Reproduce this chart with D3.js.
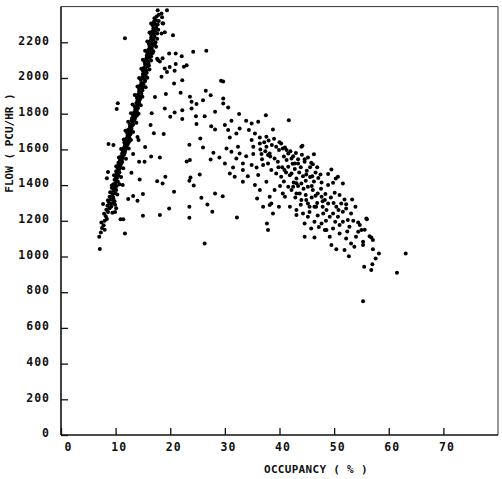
<!DOCTYPE html>
<html lang="en">
<head>
<meta charset="UTF-8">
<title>flow vs occupancy</title>
<script src="https://cdn.jsdelivr.net/npm/d3@7"></script>
<style>
	body { margin: 0; background: #fff; }
	svg text { font-family: "DejaVu Sans Mono", monospace; font-weight: bold; fill: #111; }
</style>
</head>
<body>
<svg id="chart" width="502" height="479"></svg>
<script>
// [occupancy %, flow pcu/hr]
var freeFlow = [
	[7.1,1042],[7.0,1110],[7.3,1135],[7.5,1160],[7.8,1175],[7.4,1190],
	[8.0,1200],[8.4,1210],[8.2,1225],[7.9,1240],[8.6,1250],[8.3,1262],[8.9,1270],[8.5,1285],
	[9.0,1295],[8.7,1305],[9.5,1300],[9.8,1310],[9.2,1320],[8.9,1335],[9.5,1335],
	[9.4,1350],[9.9,1355],[9.6,1370],[10.1,1372],[9.3,1385],
	[9.8,1390],[10.2,1395],[9.6,1405],[10.0,1412],[10.4,1420],[9.8,1430],[10.2,1438],
	[10.0,1448],[10.5,1452],[10.3,1465],[10.7,1470],[10.1,1478],[10.5,1485],
	[10.4,1495],[10.9,1500],[10.6,1512],[11.0,1518],[10.5,1525],[11.2,1530],[10.8,1538],
	[10.9,1548],[11.3,1552],[11.0,1562],[11.5,1568],[11.2,1578],[11.7,1585],
	[11.3,1592],[11.8,1598],[11.5,1608],[12.0,1612],[11.7,1622],[12.2,1628],[11.6,1638],
	[11.9,1645],[12.3,1650],[12.0,1662],[12.5,1668],[12.2,1678],[12.7,1685],
	[12.1,1692],[12.6,1700],[12.3,1710],[12.9,1715],[12.6,1725],[13.0,1732],
	[12.6,1740],[13.1,1748],[12.9,1760],[13.4,1765],[13.0,1775],[13.6,1782],
	[13.2,1790],[13.7,1798],[13.4,1808],[13.9,1815],[13.6,1825],[14.1,1832],
	[13.5,1840],[14.0,1848],[13.8,1860],[14.3,1866],[14.0,1875],[14.5,1882],
	[13.9,1890],[14.4,1897],[14.1,1908],[14.7,1915],[14.3,1925],[14.9,1932],
	[14.3,1940],[14.8,1948],[14.5,1958],[15.1,1962],[14.7,1972],[15.3,1980],
	[14.6,1990],[15.2,1995],[14.9,2005],[15.5,2012],[15.0,2022],[15.7,2030],
	[15.0,2040],[15.5,2046],[15.2,2058],[15.8,2064],[15.4,2075],[16.0,2082],
	[15.3,2090],[15.9,2095],[15.6,2108],[16.2,2115],[15.7,2125],[16.4,2130],
	[15.8,2140],[16.3,2147],[16.0,2158],[16.6,2165],[16.2,2175],[16.8,2180],
	[16.1,2190],[16.7,2196],[16.4,2208],[16.9,2215],[16.5,2225],[17.1,2232],
	[16.5,2242],[17.0,2250],[16.7,2260],[17.3,2266],[16.9,2278],[17.4,2285],
	[16.8,2295],[17.2,2302],[17.0,2315],[17.4,2322],[17.1,2335],[17.5,2345],
	[17.9,2355],[18.4,2361],[17.7,2380],[19.4,2380],
	// band edges
	[8.6,1315],[9.9,1290],[9.0,1360],[10.3,1348],[9.3,1398],[10.7,1405],[9.7,1455],[11.0,1445],
	[10.1,1505],[11.4,1495],[10.6,1555],[11.9,1548],[11.0,1602],[12.4,1605],[11.5,1655],[12.8,1652],
	[11.8,1705],[13.2,1698],[12.3,1755],[13.8,1750],[12.8,1803],[14.2,1800],[13.1,1852],[14.6,1848],
	[13.5,1905],[14.9,1895],[14.0,1952],[15.5,1948],[14.3,2000],[15.8,2002],[14.7,2052],[16.2,2048],
	[15.0,2102],[16.5,2098],[15.4,2152],[16.9,2150],[15.8,2205],[17.3,2200],[16.2,2255],[17.6,2250],
	[16.5,2305],[17.7,2300],
	// in-between fill and blobs on the right of the band
	[9.2,1280],[9.6,1325],[9.9,1383],[10.2,1460],[10.7,1490],[11.1,1540],[11.6,1575],[11.9,1620],
	[12.4,1640],[12.7,1705],[13.2,1740],[13.5,1770],[13.9,1790],[14.2,1855],[14.6,1905],[14.9,1945],
	[15.4,1985],[15.6,2040],[16.1,2070],[16.5,2120],[16.8,2140],[17.2,2190],[17.6,2220],[17.8,2270],
	[17.9,2320],[16.3,2180],[15.9,2120],[15.3,2025],[14.5,1915],[13.9,1835],
	[17.8,2100],[18.1,2092],[17.6,2108],[17.4,2175],[18.4,2249],[18.7,2305],
	[9.9,1250],[10.1,1270],[9.4,1245],[8.0,1150]
];

var transition = [
	[11.7,2223],[10.4,1859],[10.2,1826],[16.6,1803],[17.2,1893],
	[19.4,2033],[19.9,2061],[18.6,2111],[20.5,2240],[19.0,2257],[18.6,2307],[18.5,2341],
	[8.7,1630],[9.6,1624],[16.4,1736],[17.0,1691],[14.0,1669],[14.2,1652],[15.4,1613],
	[13.2,1574],[16.5,1560],[14.3,1531],[15.3,1531],[12.9,1469],[14.4,1432],[17.6,1422],
	[11.3,1400],[15.0,1350],[12.3,1322],[13.2,1339],[14.0,1312],[15.0,1228],[10.9,1208],
	[11.4,1208],[11.7,1129],[8.6,1473],[8.4,1439],[7.7,1294],
	[19.8,2137],[21.0,2137],[22.1,2122],[24.2,2147],[26.6,2152],[21.0,2078],[23.0,2072],
	[22.5,2063],[20.8,2040],[19.0,2053],[18.4,2007],[22.2,1988],[20.7,1969],[29.3,1984],
	[29.7,1980],[21.9,1917],[19.2,1910],[26.5,1928],[27.4,1904],[23.6,1895],[26.0,1876],
	[23.9,1867],[29.7,1885],[29.7,1857],[24.8,1854],[19.0,1829],[22.2,1820],[23.9,1829],
	[30.6,1835],[28.2,1811],[20.8,1807],[20.0,1783],[24.7,1786],[26.3,1786],[22.2,1770],
	[32.6,1798],[37.5,1792],[24.8,1742],[27.5,1730],[28.2,1712],[30.0,1736],[31.2,1760],
	[30.6,1708],[32.7,1717],[33.9,1760],[34.9,1745],[36.1,1755],[34.4,1708],[18.8,1686],
	[32.1,1689],[30.9,1667],[35.5,1689],[36.4,1667],[34.9,1652],[37.6,1671],[25.5,1661],
	[23.5,1626],[26.0,1611],[32.4,1615],[35.2,1615],[36.4,1633],[37.6,1615],[30.3,1605],
	[31.2,1587],[27.9,1581],[32.7,1577],[33.9,1562],[35.2,1574],[36.7,1574],[37.9,1568],
	[27.4,1544],[29.0,1555],[23.6,1540],[23.0,1532],[32.1,1549],[30.0,1521],[33.3,1521],
	[34.9,1512],[35.8,1499],[37.0,1512],[37.9,1521],[31.5,1499],[33.3,1484],[18.1,1555],
	[30.9,1465],[25.4,1460],[23.7,1443],[19.1,1447],[31.8,1447],[34.2,1450],[36.1,1456],
	[18.6,1409],[23.5,1424],[24.3,1398],[33.3,1419],[37.6,1419],[35.5,1400],[36.4,1372],
	[20.7,1363],[28.2,1353],[29.6,1338],[25.7,1329],[35.9,1325],[37.0,1279],[26.8,1292],
	[23.5,1279],[19.8,1269],[27.7,1251],[18.1,1232],[23.5,1217],[32.2,1219],[37.7,1185],
	[37.9,1148],[26.3,1073]
];

var congested = [
	[41.7,1764],[38.8,1712],[40.3,1633],[39.4,1615],[39.9,1596],[41.3,1596],[41.6,1577],
	[44.0,1615],[46.3,1573],[38.2,1577],[39.1,1549],[39.7,1531],[41.3,1540],[42.2,1549],
	[42.8,1521],[41.6,1503],[44.6,1531],[46.1,1517],[38.5,1484],[39.4,1465],[40.3,1447],
	[40.9,1484],[42.2,1465],[43.1,1437],[44.0,1409],[45.2,1391],[46.1,1372],[47.0,1353],
	[41.6,1391],[42.2,1372],[43.1,1353],[41.0,1335],[39.1,1372],[38.2,1335],[38.2,1288],
	[39.9,1279],[44.0,1316],[45.2,1297],[46.4,1279],[43.1,1232],[45.2,1223],[44.6,1185],
	[46.4,1195],[45.8,1157],
	[40.0,1640],[40.6,1605],[38.3,1560],[42.5,1562],[43.4,1521],[44.6,1545],[45.8,1525],
	[40.6,1353],[42.5,1391],[43.7,1353],[44.9,1316],[46.7,1279],[41.9,1279],[43.1,1260],
	[44.3,1241],[45.5,1279],[38.5,1297],[38.8,1241],[44.2,1620],[44.6,1111],[46.4,1107],
	[41.9,1455],[42.8,1490],[43.6,1470],[44.3,1450],[43.9,1500],[45.0,1480],[45.6,1445],
	[44.8,1425],[46.3,1420],[42.6,1415],[43.4,1395],[40.8,1420],[40.1,1395],[42.9,1330],
	[43.9,1290],[44.8,1345],[45.9,1330],[46.9,1300],[45.5,1250],[47.0,1230],[40.5,1500],
	[39.8,1500],[41.2,1470],[46.6,1470],[47.1,1440],
	[36.5,1600],[37.2,1640],[38.0,1650],[38.6,1625],[36.8,1545],[37.4,1590],[39.0,1660],
	[40.8,1560],[41.0,1610],[42.0,1590],[43.0,1580],[43.4,1545],[42.4,1520],[44.1,1570],
	[45.2,1555],[45.6,1500],[46.9,1500],[47.5,1460],[46.0,1450],[44.9,1460],[43.1,1410],
	[44.4,1380],[45.9,1395],[47.6,1380],[48.4,1350],[46.6,1340],[47.9,1310],[49.4,1330],
	[49.9,1300],[50.8,1260],[51.9,1320],[50.2,1195],[53.5,1200],[52.4,1140],[54.0,1110],
	[48.5,1200],[47.2,1165],
	[49.5,1488],[48.9,1462],[50.3,1437],[51.6,1409],[47.7,1415],[48.9,1400],[47.7,1335],
	[48.3,1316],[48.9,1297],[47.9,1279],[48.6,1260],[50.1,1357],[51.0,1344],[51.3,1297],
	[52.2,1269],[50.4,1279],[49.8,1241],[50.7,1223],[51.6,1251],[53.3,1320],[53.9,1279],
	[53.1,1241],[52.5,1204],[47.7,1185],[48.3,1148],[49.8,1157],[51.0,1176],[51.6,1195],
	[49.2,1111],[56.0,1208],[54.7,1176],[55.0,1148],[54.4,1139],[56.5,1114],[57.1,1092],
	[56.8,1107],[52.2,1101],[53.1,1073],[53.7,1055],[55.3,1064],[55.3,1083],[49.5,1064],
	[50.4,1040],[51.9,1036],[52.7,1002],[57.1,1040],[57.6,989],[58.2,1017],[55.5,943],
	[57.0,957],[56.8,924],[63.1,1017],[61.5,909],[55.3,750],
	[50.7,1447],[49.8,1413],[52.2,1293],[55.9,1213],[54.4,1190],[55.6,1150],[48.0,1241],
	[49.2,1223],[52.8,1167],[51.0,1129],[48.6,1148]
];

var xTicks = [0, 10, 20, 30, 40, 50, 60, 70];
var yTicks = [0, 200, 400, 600, 800, 1000, 1200, 1400, 1600, 1800, 2000, 2200];

var svg = d3.select("#chart");

var x = d3.scaleLinear().domain([0, 80]).range([61, 498]);
var y = d3.scaleLinear().domain([0, 2400]).range([435, 6.6]);

// thin frame top/right
svg.append("path")
	.attr("d", "M" + x(0) + "," + y(2400) + "H" + x(80) + "V" + y(0))
	.attr("fill", "none")
	.attr("stroke", "#333")
	.attr("stroke-width", 1);

var yAxis = svg.append("g")
	.attr("transform", "translate(" + x(0) + ",0)")
	.call(d3.axisLeft(y).tickValues(yTicks).tickFormat(d3.format("d"))
		.tickSize(-7).tickSizeOuter(0).tickPadding(11));

var xAxis = svg.append("g")
	.attr("transform", "translate(0," + y(0) + ")")
	.call(d3.axisBottom(x).tickValues(xTicks).tickFormat(d3.format("d"))
		.tickSize(-7).tickSizeOuter(0).tickPadding(8));

[yAxis, xAxis].forEach(function(g) {
	g.select(".domain").attr("stroke", "#111").attr("stroke-width", 1.6);
	g.selectAll(".tick line").attr("stroke", "#111").attr("stroke-width", 1.3);
	g.selectAll("text")
		.attr("fill", "#111")
		.style("font-size", "11.5px")
		.style("letter-spacing", "1px");
});
yAxis.select(".domain").attr("d", "M0," + y(0) + "V" + y(2400));
xAxis.select(".domain").attr("d", "M" + x(0) + ",0H" + x(80));
yAxis.selectAll("text").attr("dy", "0.15em");
xAxis.selectAll("text").attr("dx", function(d){ return d === 0 ? 7 : 3; });

svg.append("text")
	.attr("transform", "translate(13,143) rotate(-90)")
	.attr("text-anchor", "middle")
	.style("font-size", "11px")
	.text("FLOW ( PCU/HR )");

svg.append("text")
	.attr("x", 264)
	.attr("y", 473)
	.style("font-size", "11px")
	.style("letter-spacing", "0.3px")
	.text("OCCUPANCY ( % )");

var allPoints = freeFlow.concat(transition, congested);

svg.append("g").selectAll("circle")
	.data(allPoints)
	.enter()
	.append("circle")
	.attr("cx", function(d){ return x(d[0]); })
	.attr("cy", function(d){ return y(d[1]); })
	.attr("r", 2)
	.attr("fill", "#000");
</script>
</body>
</html>
